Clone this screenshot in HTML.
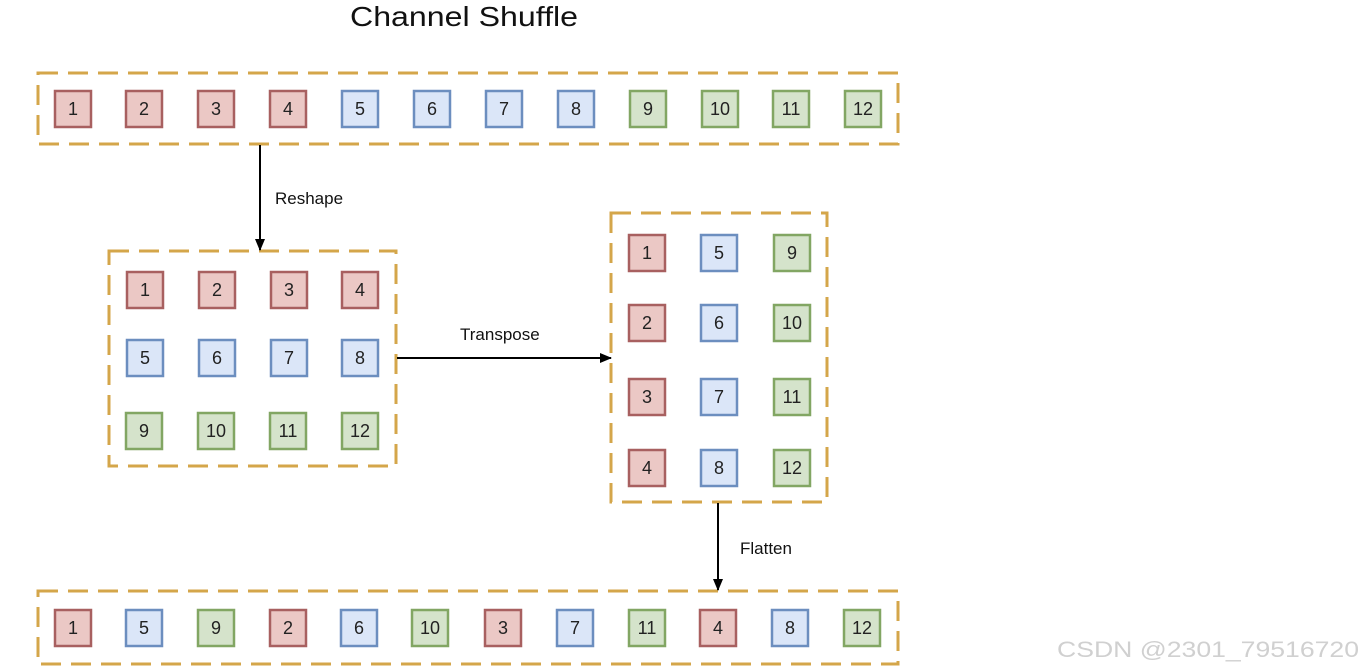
<!DOCTYPE html>
<html><head><meta charset="utf-8"><style>
html,body{margin:0;padding:0;background:#fff;width:1364px;height:672px;overflow:hidden}
svg{display:block}
text{font-family:"Liberation Sans",sans-serif}
</style></head><body>
<svg width="1364" height="672" viewBox="0 0 1364 672" xmlns="http://www.w3.org/2000/svg">
<defs>
<marker id="ah" markerWidth="12" markerHeight="12" refX="11" refY="6" orient="auto" markerUnits="userSpaceOnUse">
<path d="M0,1 L12,6 L0,11 Z" fill="#000"/></marker>
<style>
.R{fill:#ebc8c5;stroke:#a86060;stroke-width:2.5}
.B{fill:#dbe6f8;stroke:#6c8ebf;stroke-width:2.5}
.G{fill:#d5e3cb;stroke:#82a663;stroke-width:2.5}
.n{font-size:18px;fill:#222;text-anchor:middle}
.d{fill:none;stroke:#d4a64a;stroke-width:3;stroke-dasharray:20 10}
.l{font-size:17px;fill:#111}
</style>
</defs>
<text x="464" y="26" font-size="28" text-anchor="middle" textLength="228" lengthAdjust="spacingAndGlyphs" fill="#111">Channel Shuffle</text>

<rect class="d" x="38" y="73" width="860" height="71"/>
<rect class="d" x="109" y="251" width="287" height="215"/>
<rect class="d" x="611" y="213" width="216" height="289"/>
<rect class="d" x="38" y="591" width="860" height="73"/>

<line x1="260" y1="145" x2="260" y2="250" stroke="#000" stroke-width="2" marker-end="url(#ah)"/>
<text class="l" x="275" y="204">Reshape</text>
<line x1="397" y1="358" x2="611" y2="358" stroke="#000" stroke-width="2" marker-end="url(#ah)"/>
<text class="l" x="460" y="340">Transpose</text>
<line x1="718" y1="503" x2="718" y2="590" stroke="#000" stroke-width="2" marker-end="url(#ah)"/>
<text class="l" x="740" y="554">Flatten</text>

<g id="top">
<rect class="R" x="55" y="91" width="36" height="36"/><text class="n" x="73" y="115">1</text>
<rect class="R" x="126" y="91" width="36" height="36"/><text class="n" x="144" y="115">2</text>
<rect class="R" x="198" y="91" width="36" height="36"/><text class="n" x="216" y="115">3</text>
<rect class="R" x="270" y="91" width="36" height="36"/><text class="n" x="288" y="115">4</text>
<rect class="B" x="342" y="91" width="36" height="36"/><text class="n" x="360" y="115">5</text>
<rect class="B" x="414" y="91" width="36" height="36"/><text class="n" x="432" y="115">6</text>
<rect class="B" x="486" y="91" width="36" height="36"/><text class="n" x="504" y="115">7</text>
<rect class="B" x="558" y="91" width="36" height="36"/><text class="n" x="576" y="115">8</text>
<rect class="G" x="630" y="91" width="36" height="36"/><text class="n" x="648" y="115">9</text>
<rect class="G" x="702" y="91" width="36" height="36"/><text class="n" x="720" y="115">10</text>
<rect class="G" x="773" y="91" width="36" height="36"/><text class="n" x="791" y="115">11</text>
<rect class="G" x="845" y="91" width="36" height="36"/><text class="n" x="863" y="115">12</text>
</g>

<g>
<rect class="R" x="127" y="272" width="36" height="36"/><text class="n" x="145" y="296">1</text>
<rect class="R" x="199" y="272" width="36" height="36"/><text class="n" x="217" y="296">2</text>
<rect class="R" x="271" y="272" width="36" height="36"/><text class="n" x="289" y="296">3</text>
<rect class="R" x="342" y="272" width="36" height="36"/><text class="n" x="360" y="296">4</text>
<rect class="B" x="127" y="340" width="36" height="36"/><text class="n" x="145" y="364">5</text>
<rect class="B" x="199" y="340" width="36" height="36"/><text class="n" x="217" y="364">6</text>
<rect class="B" x="271" y="340" width="36" height="36"/><text class="n" x="289" y="364">7</text>
<rect class="B" x="342" y="340" width="36" height="36"/><text class="n" x="360" y="364">8</text>
<rect class="G" x="126" y="413" width="36" height="36"/><text class="n" x="144" y="437">9</text>
<rect class="G" x="198" y="413" width="36" height="36"/><text class="n" x="216" y="437">10</text>
<rect class="G" x="270" y="413" width="36" height="36"/><text class="n" x="288" y="437">11</text>
<rect class="G" x="342" y="413" width="36" height="36"/><text class="n" x="360" y="437">12</text>
</g>

<g>
<rect class="R" x="629" y="235" width="36" height="36"/><text class="n" x="647" y="259">1</text>
<rect class="B" x="701" y="235" width="36" height="36"/><text class="n" x="719" y="259">5</text>
<rect class="G" x="774" y="235" width="36" height="36"/><text class="n" x="792" y="259">9</text>
<rect class="R" x="629" y="305" width="36" height="36"/><text class="n" x="647" y="329">2</text>
<rect class="B" x="701" y="305" width="36" height="36"/><text class="n" x="719" y="329">6</text>
<rect class="G" x="774" y="305" width="36" height="36"/><text class="n" x="792" y="329">10</text>
<rect class="R" x="629" y="379" width="36" height="36"/><text class="n" x="647" y="403">3</text>
<rect class="B" x="701" y="379" width="36" height="36"/><text class="n" x="719" y="403">7</text>
<rect class="G" x="774" y="379" width="36" height="36"/><text class="n" x="792" y="403">11</text>
<rect class="R" x="629" y="450" width="36" height="36"/><text class="n" x="647" y="474">4</text>
<rect class="B" x="701" y="450" width="36" height="36"/><text class="n" x="719" y="474">8</text>
<rect class="G" x="774" y="450" width="36" height="36"/><text class="n" x="792" y="474">12</text>
</g>

<g>
<rect class="R" x="55" y="610" width="36" height="36"/><text class="n" x="73" y="634">1</text>
<rect class="B" x="126" y="610" width="36" height="36"/><text class="n" x="144" y="634">5</text>
<rect class="G" x="198" y="610" width="36" height="36"/><text class="n" x="216" y="634">9</text>
<rect class="R" x="270" y="610" width="36" height="36"/><text class="n" x="288" y="634">2</text>
<rect class="B" x="341" y="610" width="36" height="36"/><text class="n" x="359" y="634">6</text>
<rect class="G" x="412" y="610" width="36" height="36"/><text class="n" x="430" y="634">10</text>
<rect class="R" x="485" y="610" width="36" height="36"/><text class="n" x="503" y="634">3</text>
<rect class="B" x="557" y="610" width="36" height="36"/><text class="n" x="575" y="634">7</text>
<rect class="G" x="629" y="610" width="36" height="36"/><text class="n" x="647" y="634">11</text>
<rect class="R" x="700" y="610" width="36" height="36"/><text class="n" x="718" y="634">4</text>
<rect class="B" x="772" y="610" width="36" height="36"/><text class="n" x="790" y="634">8</text>
<rect class="G" x="844" y="610" width="36" height="36"/><text class="n" x="862" y="634">12</text>
</g>

<text x="1057" y="657" font-size="22" fill="#d0d0d0" textLength="302" lengthAdjust="spacingAndGlyphs">CSDN @2301_79516720</text>
</svg>
</body></html>
